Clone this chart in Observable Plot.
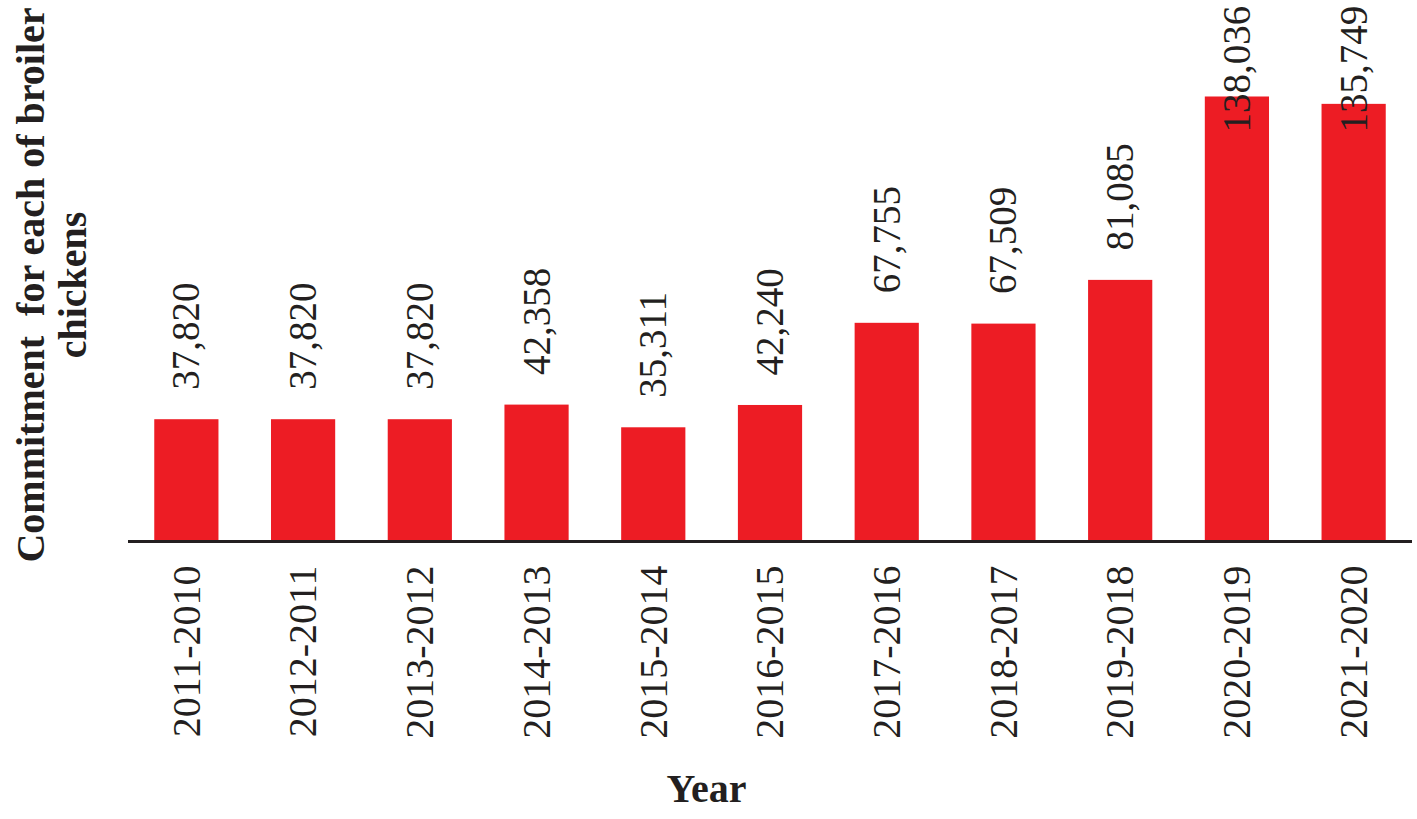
<!DOCTYPE html>
<html><head><meta charset="utf-8">
<script src="https://cdn.jsdelivr.net/npm/d3@7"></script>
<script src="https://cdn.jsdelivr.net/npm/@observablehq/plot@0.6"></script>
<style>html,body{margin:0;padding:0;background:#fff} #chart svg{display:block} #chart svg text{font-family:'Liberation Serif','Times New Roman',serif}</style>
</head><body><div id="chart"></div>
<script>
const years = ["2011-2010","2012-2011","2013-2012","2014-2013","2015-2014","2016-2015","2017-2016","2018-2017","2019-2018","2020-2019","2021-2020"];
const values = [37820,37820,37820,42358,35311,42240,67755,67509,81085,138036,135749];
const yTitle = "Commitment  for each of broiler\nchickens";
const xTitle = "Year";

const data = years.map((y, i) => ({year: y, value: values[i], label: d3.format(",")(values[i])}));
const LABEL_CAP = 117700;
const ink = "#231f20";
const serif = "'Liberation Serif', 'Times New Roman', serif";

const chart = Plot.plot({
  width: 1417, height: 819,
  marginLeft: 128, marginRight: 5, marginTop: 0, marginBottom: 278,
  style: {fontFamily: serif, background: "#fff", color: ink},
  x: {domain: years, paddingInner: 0.45, paddingOuter: 0.225, round: false, label: null},
  y: {domain: [0, 168000], axis: null},
  marks: [
    Plot.barY(data, {x: "year", y: "value", fill: "#ed1c24"}),
    Plot.ruleY([0], {stroke: ink, strokeWidth: 3}),
    Plot.text(data, {x: "year", y: d => Math.min(d.value, LABEL_CAP), text: "label", rotate: -90,
      textAnchor: "start", lineAnchor: "middle", dy: -30, fontSize: 39, fontFamily: serif, fill: ink}),
    Plot.axisX({tickSize: 0, tickPadding: 24, tickRotate: -90, fontSize: 40, fontFamily: serif, label: null, fill: ink}),
    Plot.text([yTitle], {text: d => d, frameAnchor: "left", rotate: -90, dx: -77, dy: 14, fontFamily: serif,
      fontWeight: "bold", fontSize: 40, lineHeight: 1.05, textAnchor: "middle", lineAnchor: "middle", fill: ink}),
    Plot.text([xTitle], {text: d => d, frameAnchor: "bottom", dx: -64, dy: 248, fontFamily: serif,
      fontWeight: "bold", fontSize: 40, textAnchor: "middle", lineAnchor: "middle", fill: ink})
  ]
});
document.getElementById("chart").appendChild(chart);
</script>
</body></html>
